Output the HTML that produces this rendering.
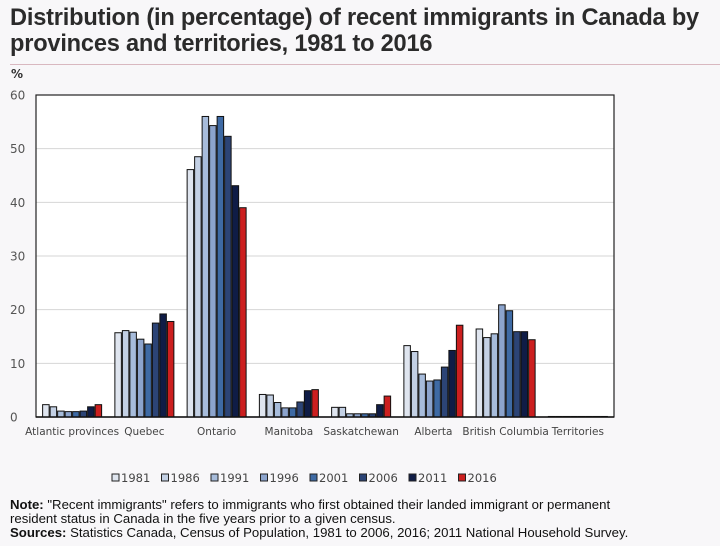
<!DOCTYPE html>
<html><head><meta charset="utf-8"><style>
body{margin:0;width:720px;height:546px;background:#f8f7f9;font-family:"Liberation Sans",sans-serif;overflow:hidden;position:relative}
#title{position:absolute;left:10px;top:5px;font-size:23.6px;font-weight:bold;color:#2b2b2b;line-height:26px;letter-spacing:-0.2px}
#rule{position:absolute;left:10px;top:64px;width:710px;height:1px;background:#d9b8c0}
#notes{position:absolute;left:10px;top:498px;font-size:13.2px;line-height:14px;color:#111}
</style></head><body>
<div id="title">Distribution (in percentage) of recent immigrants in Canada by<br>provinces and territories, 1981 to 2016</div>
<div id="rule"></div>
<svg id="chart" width="720" height="546" style="position:absolute;left:0;top:0"></svg>
<div id="notes"><b>Note:</b> "Recent immigrants" refers to immigrants who first obtained their landed immigrant or permanent<br>resident status in Canada in the five years prior to a given census.<br><b>Sources:</b> Statistics Canada, Census of Population, 1981 to 2006, 2016; 2011 National Household Survey.</div>
<script>
const categories=["Atlantic provinces","Quebec","Ontario","Manitoba","Saskatchewan","Alberta","British Columbia","Territories"];
const years=["1981","1986","1991","1996","2001","2006","2011","2016"];
const v1981=[2.3,15.7,46.1,4.2,1.8,13.3,16.4,0.1];
const v1986=[1.9,16.1,48.5,4.1,1.8,12.2,14.8,0.1];
const v1991=[1.1,15.8,56.0,2.7,0.6,8.0,15.5,0.1];
const v1996=[1.0,14.5,54.3,1.7,0.6,6.7,20.9,0.1];
const v2001=[1.0,13.6,56.0,1.7,0.6,6.9,19.8,0.1];
const v2006=[1.1,17.5,52.3,2.8,0.6,9.3,15.9,0.1];
const v2011=[1.9,19.2,43.1,4.9,2.3,12.4,15.9,0.1];
const v2016=[2.3,17.8,39.0,5.1,3.9,17.1,14.4,0.1];
const yTicks=[0,10,20,30,40,50,60];
const series=[v1981,v1986,v1991,v1996,v2001,v2006,v2011,v2016];
const colors=["#dfe5ef","#c3d0e4","#a7bcdb","#8ca4cd","#3e6aa4","#2c4476","#0f1c46","#cc1f1f"];
const NS="http://www.w3.org/2000/svg";
const svg=document.getElementById('chart');
const L=36,R=614,T=95,B=417;
const FONT="DejaVu Sans, Liberation Sans, sans-serif";
const y=v=>B-(v/60)*(B-T);
const gw=(R-L)/categories.length;
const bw=7.5;
function mk(t,a){const e=document.createElementNS(NS,t);for(const k in a)e.setAttribute(k,a[k]);svg.appendChild(e);return e;}
let bg=mk('rect',{x:L,y:T,width:R-L,height:B-T,fill:'#fff'});


yTicks.forEach(t=>{
  if(t>0&&t<60){const g=mk('line',{x1:L,x2:R,y1:y(t),y2:y(t),stroke:'#d6d6d6','stroke-width':1});
  
  }
  const tx=mk('text',{x:10,y:y(t)+4.5,'font-size':12,fill:'#555','font-family':FONT});
  tx.textContent=t;
  
  
});
const pct=mk('text',{x:11,y:78,'font-size':12,'font-weight':'bold',fill:'#333','font-family':FONT});pct.textContent='%';


const fr=mk('rect',{x:L,y:T,width:R-L,height:B-T,fill:'none',stroke:'#222','stroke-width':1.2});


categories.forEach((c,i)=>{
  const cx=L+gw*(i+0.5);
  const x0=cx-bw*series.length/2;
  series.forEach((s,j)=>{
    const r=mk('rect',{x:x0+j*bw+0.5,y:y(s[i]),width:bw-1,height:B-y(s[i]),fill:colors[j],stroke:'#111','stroke-width':1});
    
    
  });
  const t=mk('text',{x:cx,y:435,'text-anchor':'middle','font-size':10.5,fill:'#444','font-family':FONT});
  t.textContent=c;
  
  
});
const ax=mk('line',{x1:L,x2:R,y1:B,y2:B,stroke:'#111','stroke-width':1.5});


years.forEach((yr,j)=>{
  const lx=112+j*49.5;
  const r=mk('rect',{x:lx,y:474,width:7,height:7,fill:colors[j],stroke:'#222','stroke-width':1});
  
  
  const t=mk('text',{x:lx+9,y:482,'font-size':11.5,fill:'#444','font-family':FONT});
  t.textContent=yr;
  
  
});
</script>
</body></html>
